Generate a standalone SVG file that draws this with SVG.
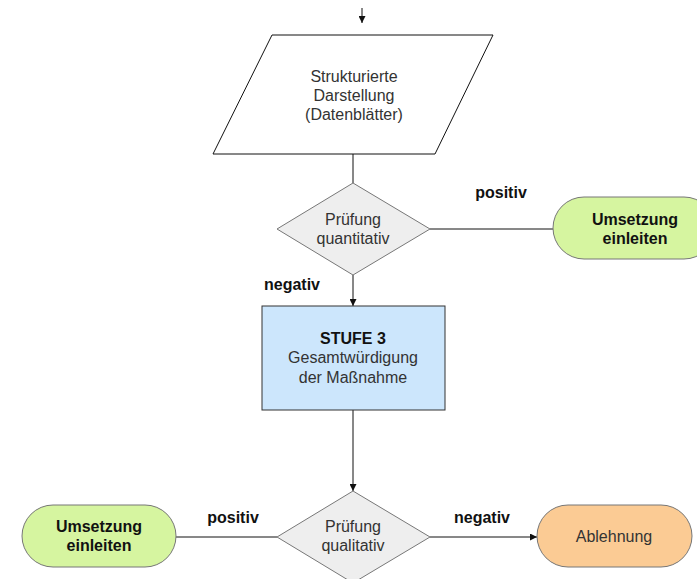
<svg xmlns="http://www.w3.org/2000/svg" width="697" height="579" viewBox="0 0 697 579">
<defs>
<style>
.t{font-family:"Liberation Sans",Arial,sans-serif;font-size:16px;fill:#333;text-anchor:middle}
.b{font-family:"Liberation Sans",Arial,sans-serif;font-size:16px;font-weight:bold;fill:#111;text-anchor:middle}
.ln{stroke:#111;stroke-width:1;fill:none}
.dia{fill:#eeeeee;stroke:#777;stroke-width:1}
.green{fill:#d6f5a0;stroke:#777;stroke-width:1}
.orange{fill:#fbcb94;stroke:#777;stroke-width:1}
</style>
<marker id="ah" viewBox="0 0 10 10" refX="10" refY="5" markerWidth="7" markerHeight="7" orient="auto" markerUnits="userSpaceOnUse">
<path d="M0,0 L10,5 L0,10 z" fill="#111"/>
</marker>
</defs>
<rect width="697" height="579" fill="#fff"/>
<g id="connectors">
<line class="ln" x1="362" y1="8" x2="362" y2="23" marker-end="url(#ah)"/>
<line class="ln" x1="353" y1="154" x2="353" y2="183"/>
<line class="ln" x1="430" y1="229" x2="553" y2="229"/>
<line class="ln" x1="353" y1="275" x2="353" y2="306" marker-end="url(#ah)"/>
<line class="ln" x1="353" y1="410" x2="353" y2="491" marker-end="url(#ah)"/>
<line class="ln" x1="176" y1="537" x2="277" y2="537"/>
<line class="ln" x1="430" y1="537" x2="537" y2="537" marker-end="url(#ah)"/>
<text class="b" x="501" y="198">positiv</text>
<text class="b" x="292" y="290">negativ</text>
<text class="b" x="233" y="523">positiv</text>
<text class="b" x="482" y="523">negativ</text>
</g>
<g id="input">
<polygon points="272,35 493,35 435,154 213,154" fill="#fff" stroke="#111" stroke-width="1"/>
<text class="t" x="354" y="82">Strukturierte</text>
<text class="t" x="354" y="101">Darstellung</text>
<text class="t" x="354" y="120">(Datenblätter)</text>
</g>
<g id="pruefung1">
<polygon class="dia" points="353,183 430,229 353,275 277,229"/>
<text class="t" x="353" y="225">Prüfung</text>
<text class="t" x="353" y="244">quantitativ</text>
</g>
<g id="umsetzung1">
<rect class="green" x="553" y="197" width="162" height="62" rx="31" ry="31"/>
<text class="b" x="635" y="225">Umsetzung</text>
<text class="b" x="635" y="244">einleiten</text>
</g>
<g id="stufe3">
<rect x="262" y="306" width="183" height="104" fill="#cce6fc" stroke="#333" stroke-width="1"/>
<text class="b" x="353" y="344">STUFE 3</text>
<text class="t" x="353" y="363">Gesamtwürdigung</text>
<text class="t" x="353" y="383">der Maßnahme</text>
</g>
<g id="pruefung2">
<polygon class="dia" points="353,491 430,537 353,583 277,537"/>
<text class="t" x="353" y="532">Prüfung</text>
<text class="t" x="353" y="551">qualitativ</text>
</g>
<g id="umsetzung2">
<rect class="green" x="22" y="505" width="154" height="62" rx="31" ry="31"/>
<text class="b" x="99" y="532">Umsetzung</text>
<text class="b" x="99" y="551">einleiten</text>
</g>
<g id="ablehnung">
<rect class="orange" x="537" y="505" width="155" height="62" rx="31" ry="31"/>
<text class="t" x="614" y="542">Ablehnung</text>
</g>
</svg>
